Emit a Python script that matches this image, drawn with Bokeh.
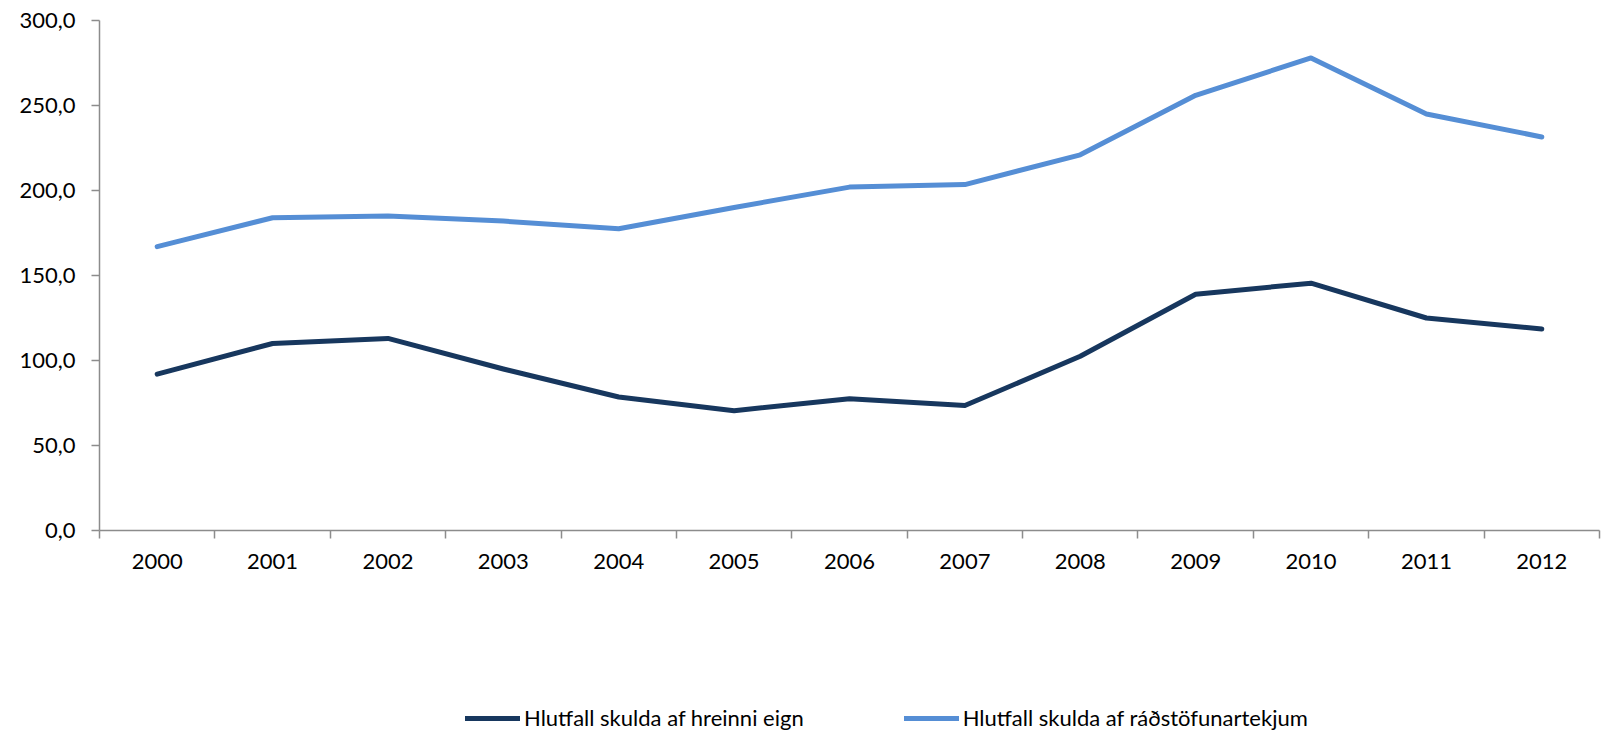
from bokeh.plotting import figure
from bokeh.models import Range1d, FixedTicker, Legend, LegendItem, NumeralTickFormatter
from bokeh.layouts import column
from bokeh.embed import file_html
from bokeh.resources import INLINE

years = [2000, 2001, 2002, 2003, 2004, 2005, 2006, 2007, 2008, 2009, 2010, 2011, 2012]
hreinni_eign = [92.0, 110.0, 113.0, 95.0, 78.5, 70.5, 77.5, 73.5, 102.5, 139.0, 145.5, 125.0, 118.5]
radstofunartekjum = [167.0, 184.0, 185.0, 182.0, 177.5, 190.0, 202.0, 203.5, 221.0, 256.0, 278.0, 245.0, 231.5]
series_names = ["Hlutfall skulda af hreinni eign", "Hlutfall skulda af ráðstöfunartekjum"]
y_ticks = [0, 50, 100, 150, 200, 250, 300]

FONT = "Lato"
AXIS_COLOR = "#8c8c8c"
DARK = "#17375E"
LIGHT = "#558ED5"
LW = 5

p = figure(width=1604, height=640, output_backend="svg", toolbar_location=None,
           x_range=Range1d(years[0] - 0.5, years[-1] + 0.5), y_range=Range1d(0, 300),
           min_border_left=99, min_border_right=5, min_border_top=20, min_border_bottom=110)
p.outline_line_color = None
p.xgrid.visible = False
p.ygrid.visible = False
p.background_fill_color = "white"
p.border_fill_color = "white"

p.line(years, hreinni_eign, line_color=DARK, line_width=LW, line_cap="round", line_join="round")
p.line(years, radstofunartekjum, line_color=LIGHT, line_width=LW, line_cap="round", line_join="round")

# x axis: labels at years, tick marks between categories
xa = p.xaxis[0]
xa.ticker = FixedTicker(ticks=years, minor_ticks=[y - 0.5 for y in years] + [years[-1] + 0.5])
xa.formatter = NumeralTickFormatter(format="0")
xa.major_tick_line_color = None
xa.major_tick_in = 0
xa.major_tick_out = 8
xa.minor_tick_line_color = AXIS_COLOR
xa.minor_tick_line_width = 1.5
xa.minor_tick_in = 0
xa.minor_tick_out = 8
xa.axis_line_color = AXIS_COLOR
xa.axis_line_width = 1.5
xa.major_label_text_font = FONT
xa.major_label_text_font_size = "22px"
xa.major_label_text_color = "black"
xa.major_label_standoff = 15

ya = p.yaxis[0]
ya.ticker = FixedTicker(ticks=y_ticks, minor_ticks=[])
ya.major_label_overrides = {t: f"{t:.1f}".replace(".", ",") for t in y_ticks}
ya.major_tick_in = 0
ya.major_tick_out = 8
ya.major_tick_line_color = AXIS_COLOR
ya.major_tick_line_width = 1.5
ya.minor_tick_line_color = None
ya.axis_line_color = AXIS_COLOR
ya.axis_line_width = 1.5
ya.major_label_text_font = FONT
ya.major_label_text_font_size = "22px"
ya.major_label_text_color = "black"
ya.major_label_standoff = 16

# legend strip below the chart (its series lie outside this strip's visible range)
lf = figure(width=1604, height=91, output_backend="svg", toolbar_location=None,
            x_range=Range1d(0, 1), y_range=Range1d(0, 1),
            x_axis_location=None, y_axis_location=None,
            min_border_left=0, min_border_right=0, min_border_top=0, min_border_bottom=0)
lf.outline_line_color = None
lf.xgrid.visible = False
lf.ygrid.visible = False
k1 = lf.line(years, hreinni_eign, line_color=DARK, line_width=LW, line_cap="round")
k2 = lf.line(years, radstofunartekjum, line_color=LIGHT, line_width=LW, line_cap="round")

legend = Legend(items=[LegendItem(label=series_names[0], renderers=[k1]),
                       LegendItem(label=series_names[1], renderers=[k2])],
                orientation="horizontal", location=(366, 0),
                glyph_width=55, glyph_height=24, label_height=24, label_standoff=4,
                spacing=100, padding=0, margin=0,
                border_line_color=None, background_fill_alpha=0,
                label_text_font=FONT, label_text_font_size="22px", label_text_color="black")
lf.add_layout(legend)

open("out.html", "w").write(file_html(column(p, lf, spacing=0), INLINE))
